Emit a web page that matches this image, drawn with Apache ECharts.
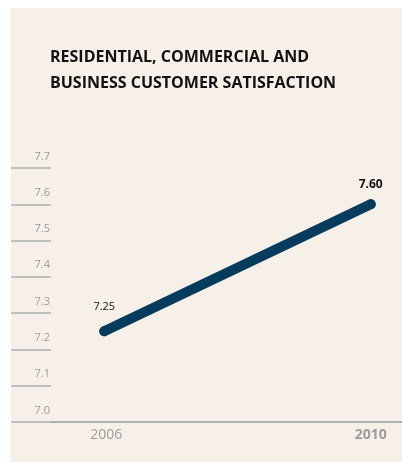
<!DOCTYPE html>
<html>
<head>
<meta charset="utf-8">
<script src="https://cdn.jsdelivr.net/npm/echarts@6/dist/echarts.min.js"></script>
<style>
  html, body { margin: 0; padding: 0; background: #ffffff; }
  #chart { position: absolute; left: 11px; top: 8px; width: 391px; height: 454px; }
</style>
</head>
<body>
<div id="chart"></div>
<script>
// Survey years and satisfaction scores
const years = [2006, 2010];
const scores = [7.25, 7.60];
const scoreLabels = ['7.25', '7.60'];
const yTicks = [7.0, 7.1, 7.2, 7.3, 7.4, 7.5, 7.6, 7.7];
const titleLines = ['RESIDENTIAL, COMMERCIAL AND', 'BUSINESS CUSTOMER SATISFACTION'];

const lineColor = '#053c5d';
const gray = '#9c9c9c';
const rule = '#b0b0b0';

const chart = echarts.init(document.getElementById('chart'));

const pointLabels = [
  { fontSize: 11, fontWeight: 'normal', distance: 14 },
  { fontSize: 12, fontWeight: 'bold', distance: 9 }
];

chart.setOption({
  backgroundColor: '#f6f0e9',
  animation: false,
  textStyle: { fontFamily: 'Open Sans' },
  title: {
    text: titleLines.join('\n'),
    left: 39,
    top: 36,
    padding: 0,
    textStyle: {
      fontFamily: 'Open Sans',
      fontSize: 16,
      fontWeight: 'bold',
      lineHeight: 26,
      color: '#111111'
    }
  },
  grid: { left: 40, right: 0, top: 160, bottom: 40 },
  xAxis: {
    type: 'value',
    min: 2005.2,
    max: 2010.47,
    splitLine: { show: false },
    axisTick: { show: false },
    axisLine: { show: true, lineStyle: { color: rule, width: 2 } },
    axisLabel: {
      customValues: years,
      margin: 6,
      formatter: v => (v === years[years.length - 1] ? '{b|' + v + '}' : '{a|' + v + '}'),
      rich: {
        a: { fontSize: 14, color: gray, fontFamily: 'Open Sans', padding: [0, 0, 0, 4] },
        b: { fontSize: 14, color: gray, fontWeight: 'bold', fontFamily: 'Open Sans' }
      }
    }
  },
  yAxis: {
    type: 'value',
    min: yTicks[0],
    max: yTicks[yTicks.length - 1],
    interval: 0.1,
    splitLine: { show: false },
    axisLine: { show: false },
    axisTick: { show: true, length: 40, lineStyle: { color: rule, width: 1.5 } },
    axisLabel: {
      margin: 1,
      fontSize: 11,
      lineHeight: 11,
      color: gray,
      verticalAlign: 'bottom',
      padding: [0, 0, 6, 0],
      formatter: v => v.toFixed(1)
    }
  },
  series: [{
    type: 'line',
    data: years.map((y, i) => ({
      value: [y, scores[i]],
      label: {
        show: true,
        position: 'top',
        formatter: scoreLabels[i],
        color: '#111111',
        fontSize: pointLabels[i].fontSize,
        fontWeight: pointLabels[i].fontWeight,
        distance: pointLabels[i].distance
      }
    })),
    symbol: 'circle',
    symbolSize: 10,
    itemStyle: { color: lineColor },
    lineStyle: { color: lineColor, width: 10, cap: 'round' }
  }]
});
</script>
</body>
</html>
